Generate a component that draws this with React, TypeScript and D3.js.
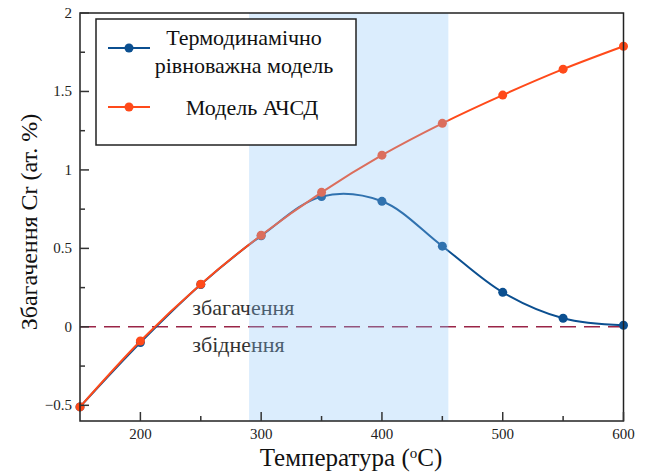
import React from "react";
import * as d3 from "d3";

const temps = [150, 200, 250, 300, 350, 400, 450, 500, 550, 600];
const equilibrium = [-0.51, -0.1, 0.27, 0.58, 0.83, 0.8, 0.514, 0.22, 0.055, 0.01];
const achsd = [-0.51, -0.09, 0.272, 0.584, 0.857, 1.094, 1.297, 1.477, 1.642, 1.788];
const xMajor = [200, 300, 400, 500, 600];
const xMinor = [250, 350, 450, 550];
const yMajor = [-0.5, 0, 0.5, 1, 1.5, 2];
const yMinor = [-0.25, 0.25, 0.75, 1.25, 1.75];
const shadeRange = [290, 455];

const W = 645;
const H = 472;
const margin = { top: 13, right: 21.5, bottom: 51, left: 80 };
const BLUE = "#0b4f90";
const RED = "#ff4a1a";
const serif = { fontFamily: "'Liberation Serif'" };

const App: React.FC = () => {
  const innerW = W - margin.left - margin.right;
  const innerH = H - margin.top - margin.bottom;

  const x = d3.scaleLinear().domain([150, 600]).range([0, innerW]);
  const y = d3.scaleLinear().domain([-0.6, 2]).range([innerH, 0]);

  const line = d3
    .line<number>()
    .x((_, i) => x(temps[i]))
    .y((d) => y(d))
    .curve(d3.curveCatmullRom.alpha(0.5));

  const fmt = (v: number) => (v < 0 ? "\u2212" + Math.abs(v) : String(v));

  // blue first, red drawn on top where they overlap
  const series = [
    { values: equilibrium, color: BLUE },
    { values: achsd, color: RED },
  ];

  return (
    <svg
      width={W}
      height={H}
      style={{ position: "fixed", left: 0, top: 0, background: "white" }}
    >
      <g transform={`translate(${margin.left},${margin.top})`}>
        {/* zero line */}
        <line
          x1={0}
          x2={innerW}
          y1={y(0)}
          y2={y(0)}
          stroke="#9a2447"
          strokeWidth={1.5}
          strokeDasharray="16,8"
        />
        <text x={x(243)} y={y(0) - 12} fontSize={22} fill="#333" style={serif}>
          збагачення
        </text>
        <text x={x(243)} y={y(0) + 25} fontSize={22} fill="#333" style={serif}>
          збіднення
        </text>

        {series.map((s, k) => (
          <g key={k}>
            <path d={line(s.values) ?? ""} fill="none" stroke={s.color} strokeWidth={2} />
            {s.values.map((v, i) => (
              <circle key={i} cx={x(temps[i])} cy={y(v)} r={4.5} fill={s.color} />
            ))}
          </g>
        ))}

        {/* shaded band drawn over the curves */}
        <rect
          x={x(shadeRange[0])}
          y={0}
          width={x(shadeRange[1]) - x(shadeRange[0])}
          height={innerH}
          fill="rgb(135,196,250)"
          opacity={0.3}
        />

        {/* frame */}
        <rect x={0} y={0} width={innerW} height={innerH} fill="none" stroke="#222" strokeWidth={1.5} />

        {/* x ticks */}
        {xMajor.map((t) => (
          <g key={t}>
            <line x1={x(t)} x2={x(t)} y1={innerH} y2={innerH - 9} stroke="#333" strokeWidth={1.5} />
            <text x={x(t)} y={innerH + 18} textAnchor="middle" fontSize={15} fill="#222" style={serif}>
              {t}
            </text>
          </g>
        ))}
        {xMinor.map((t) => (
          <line key={t} x1={x(t)} x2={x(t)} y1={innerH} y2={innerH - 5} stroke="#333" strokeWidth={1.5} />
        ))}

        {/* y ticks */}
        {yMajor.map((t) => (
          <g key={t}>
            <line x1={0} x2={9} y1={y(t)} y2={y(t)} stroke="#333" strokeWidth={1.5} />
            <text x={-8} y={y(t) + 5} textAnchor="end" fontSize={15} fill="#222" style={serif}>
              {fmt(t)}
            </text>
          </g>
        ))}
        {yMinor.map((t) => (
          <line key={t} x1={0} x2={5} y1={y(t)} y2={y(t)} stroke="#333" strokeWidth={1.5} />
        ))}

        {/* legend */}
        <g transform="translate(16,6)">
          <rect x={0} y={0} width={260} height={126} fill="white" stroke="#222" strokeWidth={1.5} />
          <line x1={12} x2={54} y1={29} y2={29} stroke={BLUE} strokeWidth={2} />
          <circle cx={33} cy={29} r={4.5} fill={BLUE} />
          <text x={148} y={26} textAnchor="middle" fontSize={22} fill="#111" style={serif}>
            Термодинамічно
          </text>
          <text x={148} y={54} textAnchor="middle" fontSize={22} fill="#111" style={serif}>
            рівноважна модель
          </text>
          <line x1={12} x2={54} y1={88} y2={88} stroke={RED} strokeWidth={2} />
          <circle cx={33} cy={88} r={4.5} fill={RED} />
          <text x={156} y={96} textAnchor="middle" fontSize={22} fill="#111" style={serif}>
            Модель АЧСД
          </text>
        </g>
      </g>

      {/* axis titles */}
      <text
        transform={`translate(37,${margin.top + innerH / 2 + 5}) rotate(-90)`}
        textAnchor="middle"
        fontSize={24}
        fill="#111"
        style={serif}
      >
        Збагачення Cr (ат. %)
      </text>
      <text x={351} y={466} textAnchor="middle" fontSize={25} fill="#111" style={serif}>
        Температура (<tspan baselineShift="super" fontSize={15}>o</tspan>C)
      </text>
    </svg>
  );
};

export default App;
